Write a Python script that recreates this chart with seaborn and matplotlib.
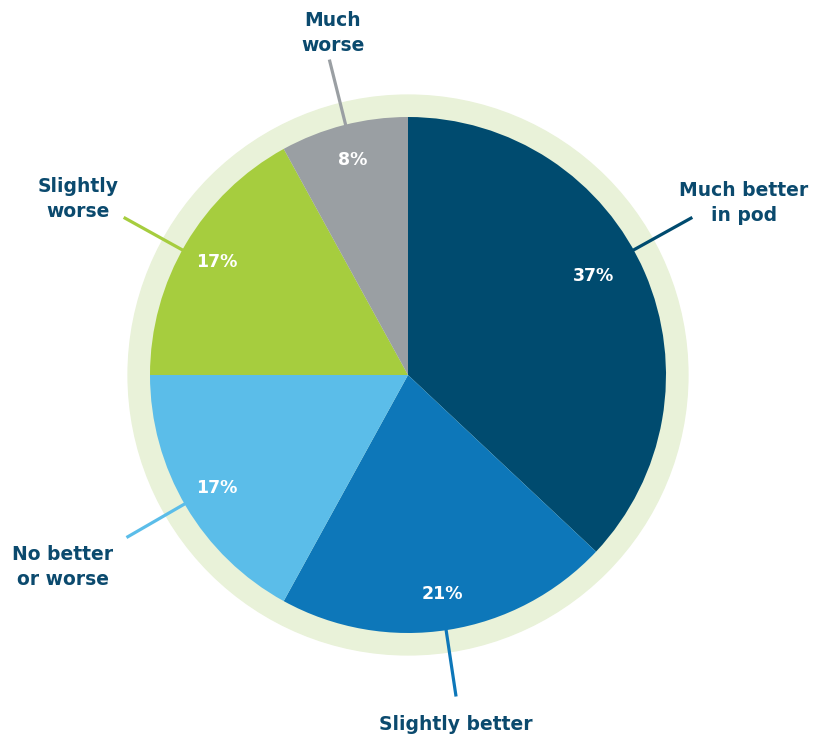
import matplotlib
matplotlib.use("Agg")
import matplotlib.pyplot as plt
import numpy as np
import seaborn as sns

# ── Data ────────────────────────────
categories = ["Much better\nin pod", "Slightly better", "No better\nor worse",
              "Slightly\nworse", "Much\nworse"]
shares = [37, 21, 17, 17, 8]
colors = ["#004b6f", "#0d77b9", "#5bbde9", "#a6cd3e", "#9a9fa3"]

# label placement (data units, pie radius = 1) and leader-line angles
label_xy = [(1.302, 0.667), (0.186, -1.353), (-1.337, -0.744),
            (-1.279, 0.682), (-0.291, 1.326)]
leader_angles = [29.0, -81.5, -150.0, 151.0, 104.0]

sns.set_theme(style="white")
plt.rcParams["font.family"] = ["DejaVu Sans"]

TEXT = "#0b4a6e"
RING = "#e9f2d9"

fig = plt.figure(figsize=(8.26, 7.36), dpi=100)
ax = fig.add_axes([0, 0, 1, 1])

# light ring behind the pie
ax.add_patch(plt.Circle((0, 0), 1.085, color=RING, zorder=0))

wedges, _, autotexts = ax.pie(
    shares,
    colors=colors,
    startangle=90,
    counterclock=False,
    radius=1.0,
    autopct="%d%%",
    pctdistance=0.86,
    textprops={"color": "white", "fontsize": 12.5, "fontweight": "bold"},
    wedgeprops={"linewidth": 0},
)
for w in wedges:
    w.set_zorder(1)
for t in autotexts:
    t.set_zorder(3)
# nudge the big slice label toward the reference position
autotexts[0].set_position((186 / 258, 99 / 258))

for cat, col, (lx, ly), ang in zip(categories, colors, label_xy, leader_angles):
    a = np.deg2rad(ang)
    ax.plot([np.cos(a) * 0.99, np.cos(a) * 1.26],
            [np.sin(a) * 0.99, np.sin(a) * 1.26],
            color=col, lw=2.3, solid_capstyle="butt", zorder=2)
    ax.text(lx, ly, cat, ha="center", va="center", color=TEXT,
            fontsize=13.5, fontweight="bold", linespacing=1.4)

# fix the view after pie() has done its own autoscaling
ax.set_xlim(-408 / 258, 418 / 258)
ax.set_ylim(-361 / 258, 375 / 258)
ax.set_aspect("equal")
ax.axis("off")

fig.savefig("out.png", dpi=100)
plt.close(fig)
